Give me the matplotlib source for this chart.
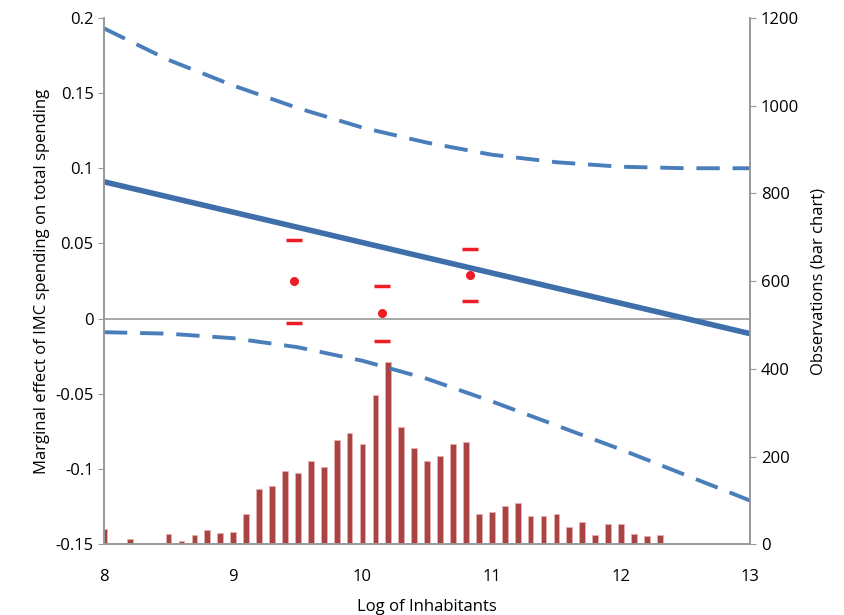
import numpy as np
import matplotlib.pyplot as plt

plt.rcParams['font.family'] = ['Open Sans', 'DejaVu Sans']

# bar chart: observations per bin of log inhabitants
bar_x = [8.0, 8.2, 8.4, 8.5, 8.6, 8.7, 8.8, 8.9, 9.0, 9.1, 9.2, 9.3, 9.4, 9.5,
         9.6, 9.7, 9.8, 9.9, 10.0, 10.1, 10.2, 10.3, 10.4, 10.5, 10.6, 10.7,
         10.8, 10.9, 11.0, 11.1, 11.2, 11.3, 11.4, 11.5, 11.6, 11.7, 11.8,
         11.9, 12.0, 12.1, 12.2, 12.3, 12.5, 12.6, 12.7]
bar_n = [35, 11, 4, 24, 7, 22, 33, 26, 28, 69, 125, 132, 168, 163, 190, 177,
         237, 253, 228, 340, 416, 267, 220, 190, 201, 228, 234, 69, 74, 88, 95,
         65, 64, 70, 40, 51, 21, 47, 47, 23, 18, 21, 1, 4, 4]

# marginal effect and confidence bands
line_x = [8, 8.5, 9, 9.5, 10, 10.5, 11, 11.5, 12, 12.5, 13]
upper = [0.193, 0.172, 0.155, 0.140, 0.127, 0.117, 0.109, 0.104, 0.101, 0.100, 0.100]
lower = [-0.009, -0.010, -0.013, -0.019, -0.028, -0.040, -0.055, -0.071, -0.087, -0.104, -0.121]
effect_x = [8, 13]
effect_y = [0.091, -0.010]

# binned estimates (red)
pt_x = [9.47, 10.15, 10.83]
pt_y = [0.025, 0.0037, 0.029]
pt_hi = [0.052, 0.022, 0.046]
pt_lo = [-0.003, -0.015, 0.012]

fig = plt.figure(figsize=(8.45, 6.15), dpi=100)
ax = fig.add_axes([0.123, 0.115, 0.765, 0.856])
ax2 = ax.twinx()
ax.set_zorder(ax2.get_zorder() + 1)
ax.patch.set_visible(False)

ax2.bar(bar_x, bar_n, width=0.045, color='#a94442', edgecolor='#e8b0b0', linewidth=0.6)
ax2.set_ylim(0, 1200)
ax2.set_yticks(range(0, 1201, 200))
ax2.set_ylabel('Observations (bar chart)', fontsize=12, labelpad=8)

blue = '#4a7ebb'
ax.axhline(0, color='#999999', lw=1.2, zorder=1)
ax.plot(effect_x, effect_y, color='#3f6faa', lw=4, solid_capstyle='butt')
ax.plot(line_x, upper, color=blue, lw=2.8, dashes=(6, 3.3))
ax.plot(line_x, lower, color=blue, lw=2.8, dashes=(6, 3.3))
ax.scatter(pt_x, pt_y, color='#ee1c25', s=30, zorder=5)
ax.scatter(pt_x, pt_hi, color='#ee1c25', marker='_', s=120, linewidths=2.5, zorder=5)
ax.scatter(pt_x, pt_lo, color='#ee1c25', marker='_', s=120, linewidths=2.5, zorder=5)

ax.set_xlim(8, 13)
ax.set_ylim(-0.15, 0.2)
ax.set_yticks([-0.15, -0.1, -0.05, 0, 0.05, 0.1, 0.15, 0.2])
ax.set_yticklabels(['-0.15', '-0.1', '-0.05', '0', '0.05', '0.1', '0.15', '0.2'])
ax.set_xticks(range(8, 14))
ax.set_xlabel('Log of Inhabitants', fontsize=12, labelpad=10)
ax.set_ylabel('Marginal effect of IMC spending on total spending', fontsize=12)

for a in (ax, ax2):
    for s in a.spines.values():
        s.set_color('#999999')
        s.set_linewidth(1.2)
    a.spines['top'].set_visible(False)
    a.tick_params(labelsize=12, color='#999999', length=4)
ax.tick_params(axis='x', length=0, pad=18)

fig.savefig('out.png', dpi=100)
